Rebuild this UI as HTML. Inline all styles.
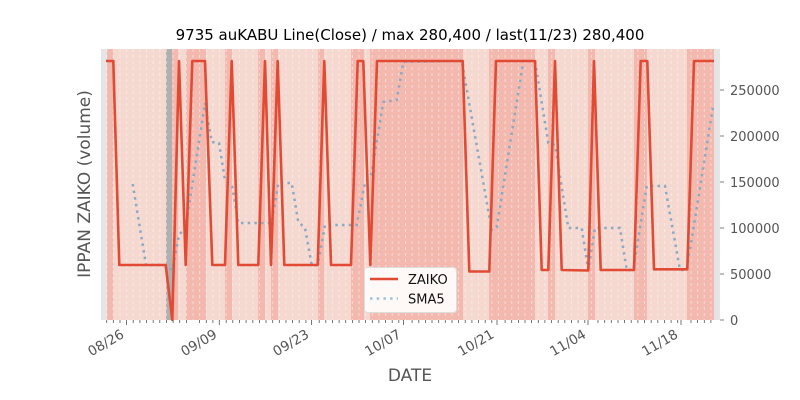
<!DOCTYPE html>
<html><head><meta charset="utf-8"><style>
html,body{margin:0;padding:0;background:#fff;}
svg{display:block;font-family:"DejaVu Sans","Liberation Sans",sans-serif;}
</style></head><body>
<svg width="800" height="400" viewBox="0 0 800 400" xmlns="http://www.w3.org/2000/svg">
<rect x="101" y="49" width="619" height="271" fill="#e5e5e5"/>
<g fill="#f5d8d0">
<rect x="113.3" y="49" width="52.7" height="271"/>
<rect x="178" y="49" width="8" height="271"/>
<rect x="206" y="49" width="19" height="271"/>
<rect x="232" y="49" width="26" height="271"/>
<rect x="265" y="49" width="6" height="271"/>
<rect x="278" y="49" width="40" height="271"/>
<rect x="324" y="49" width="27" height="271"/>
<rect x="364" y="49" width="6" height="271"/>
<rect x="463" y="49" width="26" height="271"/>
<rect x="535" y="49" width="13" height="271"/>
<rect x="555" y="49" width="33" height="271"/>
<rect x="595" y="49" width="39" height="271"/>
<rect x="647" y="49" width="40" height="271"/>
</g>
<g fill="#f3b9af">
<rect x="107" y="49" width="6.3" height="271"/>
<rect x="172" y="49" width="6" height="271"/>
<rect x="186" y="49" width="20" height="271"/>
<rect x="225" y="49" width="7" height="271"/>
<rect x="258" y="49" width="7" height="271"/>
<rect x="271" y="49" width="7" height="271"/>
<rect x="318" y="49" width="6" height="271"/>
<rect x="351" y="49" width="13" height="271"/>
<rect x="370" y="49" width="93" height="271"/>
<rect x="489" y="49" width="46" height="271"/>
<rect x="548" y="49" width="7" height="271"/>
<rect x="588" y="49" width="7" height="271"/>
<rect x="634" y="49" width="13" height="271"/>
<rect x="687" y="49" width="27" height="271"/>
</g>
<rect x="166" y="49" width="6" height="271" fill="#b0b0b0"/>
<g stroke="#ffffff" stroke-opacity="0.45" stroke-width="1" stroke-dasharray="3,3">
<path d="M106.7 49V320M113.3 49V320M120 49V320M126.6 49V320M133.2 49V320M139.9 49V320M146.5 49V320M153.2 49V320M159.8 49V320M166.4 49V320M173.1 49V320M179.7 49V320M186.4 49V320M193 49V320M199.6 49V320M206.3 49V320M212.9 49V320M219.6 49V320M226.2 49V320M232.8 49V320M239.5 49V320M246.1 49V320M252.8 49V320M259.4 49V320M266 49V320M272.7 49V320M279.3 49V320M286 49V320M292.6 49V320M299.2 49V320M305.9 49V320M312.5 49V320M319.2 49V320M325.8 49V320M332.4 49V320M339.1 49V320M345.7 49V320M352.4 49V320M359 49V320M365.6 49V320M372.3 49V320M378.9 49V320M385.6 49V320M392.2 49V320M398.8 49V320M405.5 49V320M412.1 49V320M418.8 49V320M425.4 49V320M432 49V320M438.7 49V320M445.3 49V320M452 49V320M458.6 49V320M465.2 49V320M471.9 49V320M478.5 49V320M485.2 49V320M491.8 49V320M498.4 49V320M505.1 49V320M511.7 49V320M518.4 49V320M525 49V320M531.6 49V320M538.3 49V320M544.9 49V320M551.6 49V320M558.2 49V320M564.8 49V320M571.5 49V320M578.1 49V320M584.8 49V320M591.4 49V320M598 49V320M604.7 49V320M611.3 49V320M618 49V320M624.6 49V320M631.2 49V320M637.9 49V320M644.5 49V320M651.2 49V320M657.8 49V320M664.4 49V320M671.1 49V320M677.7 49V320M684.4 49V320M691 49V320M697.6 49V320M704.3 49V320M710.9 49V320"/>
</g>
<polyline fill="none" stroke="#8aaac4" stroke-width="2.5" stroke-dasharray="2.5,4.2" points="132.7,184 146,265 166,265 172.3,270 179,235 185.7,227 205,103 211.7,142 219,143 225,180 232.3,187 238.3,223 271.7,223 278.3,183 291.7,183 298.3,222 305,228 311.7,265 317.7,265 325,225 356.7,225 365,183 371.7,173 383.3,102 396.7,100 403.3,62 461.7,61 491.7,230 496.7,227 523.3,61 535,61 548.3,143 555,145 568.3,228 581.7,228 588.3,270 595,228 620,228 626.7,270 633.3,270 646.7,186 665,186 680,270 686.7,270 713.3,105"/>
<polyline fill="none" stroke="#e24a33" stroke-width="2.6" stroke-linejoin="round" points="106,61 113.3,61 119.3,265 165.7,265 172.3,320 179,61 185.7,265 192.3,61 205,61 212.3,265 225,265 231.7,61 238.3,265 258.3,265 265,61 271,265 277.7,61 284.3,265 317.7,265 324.3,61 331,265 351,265 357.7,61 363.3,61 370.3,265 377,61 462.7,61 469.3,271.5 489.3,271.5 496,61 535,61 541.7,270 548.3,270 555,61 561.7,270 588.3,270.5 594,61 600.7,270 634,270 640.7,61 647.3,61 654,269.3 687.3,269.3 694,61 714,61"/>
<g stroke="#555" stroke-width="0.8">
<path d="M106.7 320v3M113.3 320v3M120 320v3M133.2 320v3M139.9 320v3M146.5 320v3M153.2 320v3M159.8 320v3M166.4 320v3M173.1 320v3M179.7 320v3M186.4 320v3M199.6 320v3M206.3 320v3M212.9 320v3M226.2 320v3M232.8 320v3M239.5 320v3M246.1 320v3M252.8 320v3M259.4 320v3M266 320v3M272.7 320v3M279.3 320v3M286 320v3M292.6 320v3M299.2 320v3M305.9 320v3M319.2 320v3M325.8 320v3M332.4 320v3M339.1 320v3M345.7 320v3M352.4 320v3M359 320v3M365.6 320v3M372.3 320v3M378.9 320v3M385.6 320v3M392.2 320v3M398.8 320v3M412.1 320v3M418.8 320v3M425.4 320v3M432 320v3M438.7 320v3M445.3 320v3M452 320v3M458.6 320v3M465.2 320v3M471.9 320v3M478.5 320v3M485.2 320v3M491.8 320v3M505.1 320v3M511.7 320v3M518.4 320v3M525 320v3M531.6 320v3M538.3 320v3M544.9 320v3M551.6 320v3M558.2 320v3M564.8 320v3M571.5 320v3M578.1 320v3M584.8 320v3M598 320v3M604.7 320v3M611.3 320v3M618 320v3M624.6 320v3M631.2 320v3M637.9 320v3M644.5 320v3M651.2 320v3M657.8 320v3M664.4 320v3M671.1 320v3M677.7 320v3M691 320v3M697.6 320v3M704.3 320v3M710.9 320v3"/>
<path d="M126.6 320v5M219.3 320v5M311.5 320v5M403.5 320v5M497 320v5M588 320v5M681 320v5"/>
<path d="M720 320h4M720 274h4M720 228h4M720 182h4M720 136h4M720 90h4"/>
</g>
<g fill="#555" font-size="13.5" text-anchor="end">
<text transform="translate(125,337) rotate(-30)">08/26</text>
<text transform="translate(218,337) rotate(-30)">09/09</text>
<text transform="translate(310,337) rotate(-30)">09/23</text>
<text transform="translate(402,337) rotate(-30)">10/07</text>
<text transform="translate(495,337) rotate(-30)">10/21</text>
<text transform="translate(587,337) rotate(-30)">11/04</text>
<text transform="translate(679,337) rotate(-30)">11/18</text>
</g>
<g fill="#555" font-size="13">
<text x="730" y="325">0</text>
<text x="730" y="279">50000</text>
<text x="730" y="233">100000</text>
<text x="730" y="187">150000</text>
<text x="730" y="141">200000</text>
<text x="730" y="95">250000</text>
</g>
<text x="410" y="381" font-size="17" fill="#555" text-anchor="middle">DATE</text>
<text transform="translate(90,184) rotate(-90)" font-size="17" fill="#555" text-anchor="middle">IPPAN ZAIKO (volume)</text>
<text x="410" y="40" font-size="15" fill="#000" text-anchor="middle">9735 auKABU Line(Close) / max 280,400 / last(11/23) 280,400</text>
<rect x="364.5" y="267.5" width="92" height="45" rx="3" fill="#fff" fill-opacity="0.9" stroke="#ddd"/>
<path d="M370 279h28" stroke="#e24a33" stroke-width="2.6"/>
<path d="M370 298.5h28" stroke="#9dc3dc" stroke-width="2.5" stroke-dasharray="2.5,4.2"/>
<g font-size="13" fill="#111">
<text x="408" y="284">ZAIKO</text>
<text x="408" y="303.5">SMA5</text>
</g>
</svg>
</body></html>
